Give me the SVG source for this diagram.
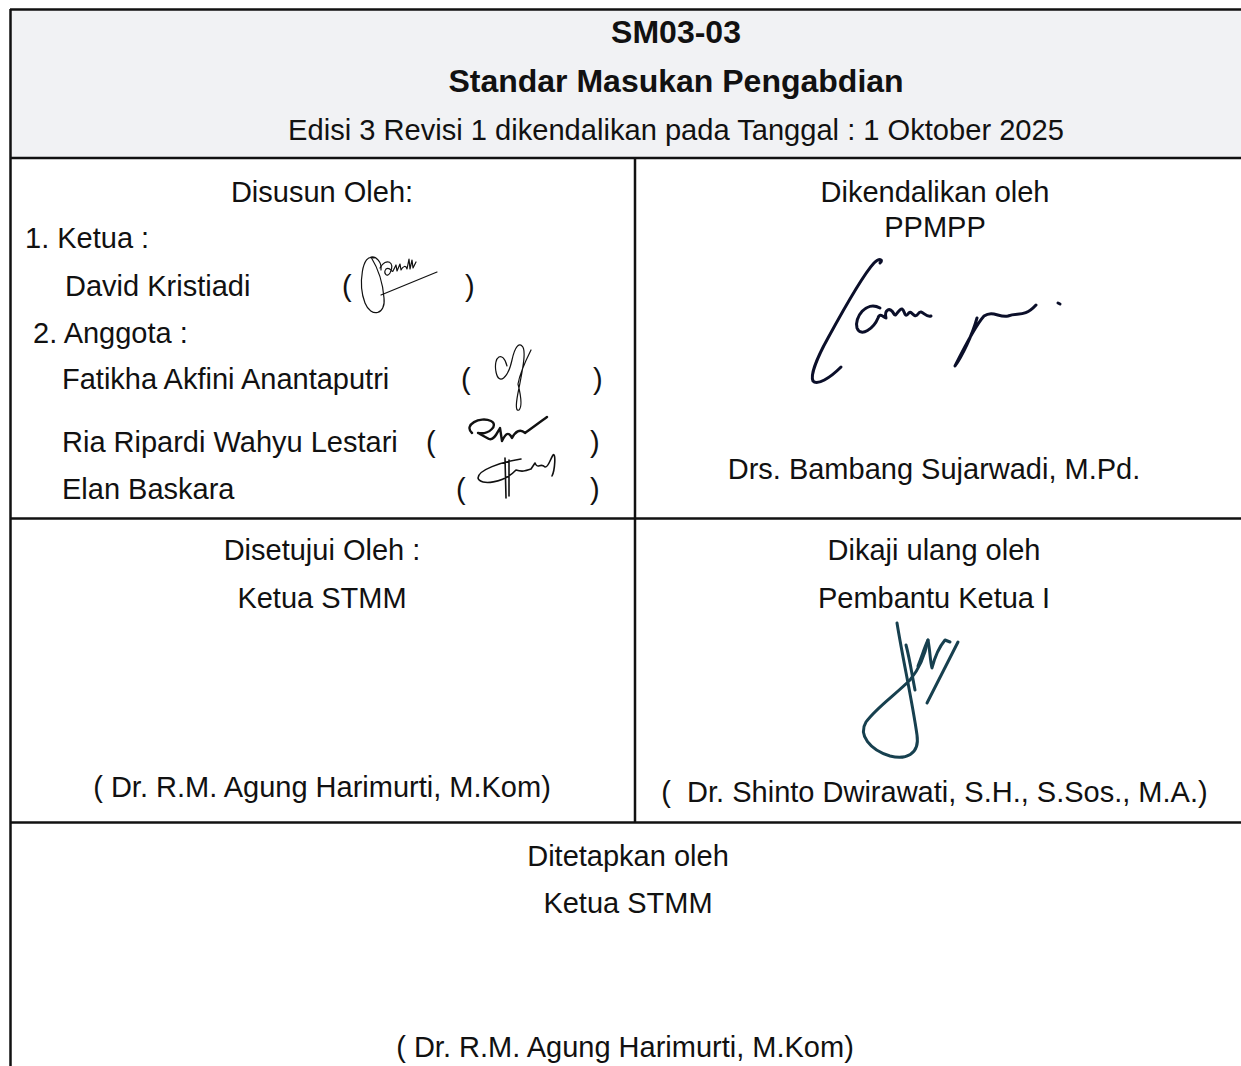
<svg xmlns="http://www.w3.org/2000/svg" width="1241" height="1066" viewBox="0 0 1241 1066">
<style>
  text { font-family: "Liberation Sans", Arial, sans-serif; font-size: 29px; fill: #111; }
  .c { text-anchor: middle; }
  .b { font-weight: 700; font-size: 32px; }
  .grid { stroke: #111; stroke-width: 2.5; fill: none; }
  .sig { fill: none; stroke: #111; stroke-width: 1.2; stroke-linecap: round; stroke-linejoin: round; }
  .sigb { fill: none; stroke: #0b0f2a; stroke-width: 3; stroke-linecap: round; stroke-linejoin: round; }
  .sigt { fill: none; stroke: #17404f; stroke-width: 3; stroke-linecap: round; stroke-linejoin: round; }
</style>
<rect x="0" y="0" width="1241" height="1066" fill="#fff"/>
<rect x="10" y="9" width="1231" height="149" fill="#f1f2f4"/>
<g id="grid" class="grid">
  <line x1="10" y1="9.5" x2="1241" y2="9.5"/>
  <line x1="10.5" y1="9" x2="10.5" y2="1066"/>
  <line x1="10" y1="158" x2="1241" y2="158"/>
  <line x1="635" y1="158" x2="635" y2="822"/>
  <line x1="10" y1="518.5" x2="1241" y2="518.5"/>
  <line x1="10" y1="822.5" x2="1241" y2="822.5"/>
</g>
<g id="header">
  <text class="c b" x="676" y="43">SM03-03</text>
  <text class="c b" x="676" y="92">Standar Masukan Pengabdian</text>
  <text class="c" x="676" y="140" style="font-size:29.1px">Edisi 3 Revisi 1 dikendalikan pada Tanggal : 1 Oktober 2025</text>
</g>
<g id="disusun">
  <text class="c" x="322" y="202">Disusun Oleh:</text>
  <text x="25" y="248">1. Ketua :</text>
  <text x="65" y="296">David Kristiadi</text>
  <text x="342" y="296">(</text>
  <text x="465" y="296">)</text>
  <text x="33" y="343">2. Anggota :</text>
  <text x="62" y="389">Fatikha Akfini Anantaputri</text>
  <text x="461" y="389">(</text>
  <text x="593" y="389">)</text>
  <text x="62" y="452">Ria Ripardi Wahyu Lestari</text>
  <text x="426" y="452">(</text>
  <text x="590" y="452">)</text>
  <text x="62" y="499">Elan Baskara</text>
  <text x="456" y="499">(</text>
  <text x="590" y="499">)</text>
  <path class="sig" d="M374,258 C362,252 358,285 365,303 C371,318 386,315 384,298 C383,284 379,270 371,257 C376,256 382,262 381,270"/>
  <path class="sig" d="M380,268 C386,257 396,262 390,273 C387,278 383,273 386,269 C390,266 392,273 393,271 l3,-6 l1,6 l3,-7 l1,6 c2,-4 5,-5 6,-1 l2,-10 l1,10 l2,-9 l1,8 l3,-6"/>
  <path class="sig" d="M381,295 L437,272"/>
  <path class="sig" d="M507,366 C503,350 493,356 496,372 C499,386 508,378 512,360 C515,346 519,343 522,346 C527,350 522,372 519,388 C516,402 515,412 519,410 C523,406 520,392 518,384 C520,372 526,360 531,350"/>
  <path class="sig" style="stroke-width:2.4" d="M472,433 C463,425 480,416 491,421 C499,425 489,435 478,433 L489,439 C494,441 497,433 500,428 L502,441 C505,435 508,430 512,438 C515,432 520,428 525,433 C532,428 540,422 547,417"/>
  <path class="sig" style="stroke-width:1.6" d="M505,458 L506,498 M509,460 L509,496 M521,459 C501,462 478,470 478,478 C480,486 504,483 516,470 C522,472 525,471 531,469 L535,463 C538,470 540,462 545,467 C548,468 550,460 553,455 C556,452 555,470 552,476"/>
</g>
<g id="dikendalikan">
  <text class="c" x="935" y="202">Dikendalikan oleh</text>
  <text class="c" x="935" y="237">PPMPP</text>
  <path class="sigb" d="M880,263 C884,259 879,258 874,263 C862,276 840,316 828,338 C818,356 810,375 813,381 C817,386 830,378 841,367"/>
  <path class="sigb" d="M880,308 C866,300 854,318 857,328 C861,338 874,328 878,318 C880,312 884,318 886,318 C884,310 890,306 894,314 C896,318 899,308 902,309 C905,310 904,318 908,314 C911,308 914,320 918,314 C922,308 925,318 931,316"/>
  <path class="sigb" d="M977,318 C972,336 962,356 955,366 C965,346 975,326 984,316 C993,310 999,318 1008,316 C1018,312 1024,318 1036,305"/>
  <path class="sigb" d="M1058,303 L1060,304"/>
  <text class="c" x="934" y="479">Drs. Bambang Sujarwadi, M.Pd.</text>
</g>
<g id="disetujui">
  <text class="c" x="322" y="560">Disetujui Oleh :</text>
  <text class="c" x="322" y="608">Ketua STMM</text>
  <text class="c" x="322" y="797">( Dr. R.M. Agung Harimurti, M.Kom)</text>
</g>
<g id="dikaji">
  <text class="c" x="934" y="560">Dikaji ulang oleh</text>
  <text class="c" x="934" y="608">Pembantu Ketua I</text>
  <path class="sigt" d="M897,623 C903,660 912,700 917,735 C920,755 905,760 890,756 C870,750 858,735 866,722 C876,708 895,695 910,680 C920,668 925,655 928,640"/>
  <path class="sigt" d="M906,645 C910,660 912,675 915,690 M918,666 C922,656 925,646 928,640 C930,650 930,660 932,668 C935,656 940,646 945,640 L950,642"/>
  <path class="sigt" d="M958,642 L927,703"/>
  <text class="c" x="934.5" y="802" xml:space="preserve">(  Dr. Shinto Dwirawati, S.H., S.Sos., M.A.)</text>
</g>
<g id="ditetapkan">
  <text class="c" x="628" y="866">Ditetapkan oleh</text>
  <text class="c" x="628" y="913">Ketua STMM</text>
  <text class="c" x="625" y="1057">( Dr. R.M. Agung Harimurti, M.Kom)</text>
</g>
<g id="connectors"></g>
</svg>
